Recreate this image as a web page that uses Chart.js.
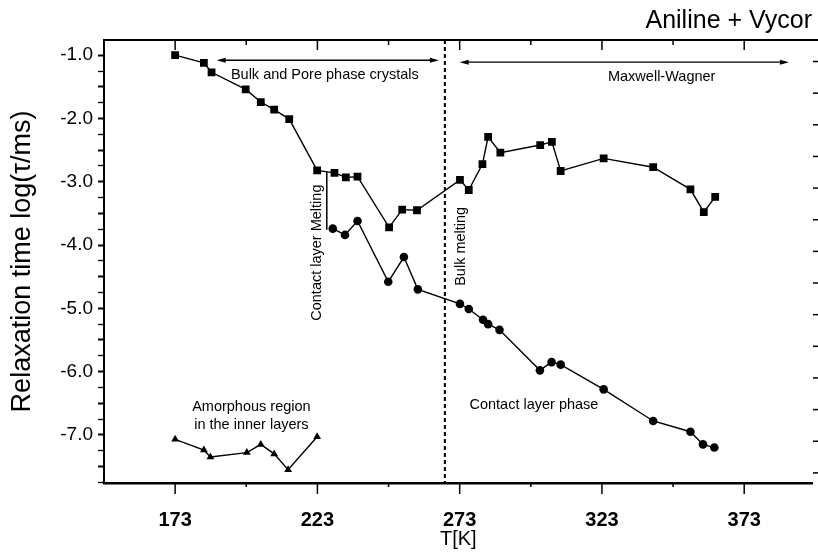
<!DOCTYPE html>
<html>
<head>
<meta charset="utf-8">
<script src="https://cdn.jsdelivr.net/npm/chart.js@4.4.1/dist/chart.umd.min.js"></script>
<style>
  html, body { margin: 0; padding: 0; background: #fff; }
</style>
</head>
<body>
<canvas id="relaxChart" width="818" height="552"></canvas>
<script>
// upper branch: bulk / pore crystals, then Maxwell-Wagner (squares)
const upperT = [173, 183.1, 185.8, 197.8, 203.1, 207.8, 213.1, 222.9, 229.0, 233.0, 237.1, 248.2, 252.8, 258.0,
  273.1, 276.2, 281.0, 283.0, 287.3, 301.3, 305.4, 308.5, 323.6, 341.0, 354.1, 358.8, 362.8];
const upperLog = [-1.00, -1.12, -1.27, -1.54, -1.74, -1.86, -2.01, -2.82, -2.86, -2.93, -2.92, -3.72, -3.44, -3.45,
  -2.97, -3.13, -2.72, -2.29, -2.54, -2.42, -2.37, -2.83, -2.63, -2.77, -3.12, -3.48, -3.24];

// lower branch: contact layer phase (circles)
const lowerT = [228.4, 232.7, 237.1, 247.9, 253.4, 258.3, 273.1, 276.2, 281.2, 283.0, 287.0, 301.2, 305.3, 308.5,
  323.6, 341.0, 354.1, 358.5, 362.5];
const lowerLog = [-3.74, -3.84, -3.62, -4.58, -4.19, -4.70, -4.93, -5.01, -5.18, -5.25, -5.34, -5.98, -5.85, -5.89,
  -6.28, -6.78, -6.95, -7.15, -7.20];

// amorphous region in the inner layers (triangles)
const amorphT = [173, 183.1, 185.4, 198.2, 203.1, 207.8, 212.7, 222.9];
const amorphLog = [-7.07, -7.24, -7.35, -7.28, -7.15, -7.30, -7.55, -7.03];

const xMajorTicks = [173, 223, 273, 323, 373];
const xMinorTicks = [198, 248, 298, 348];
const yMajorTicks = [-1, -2, -3, -4, -5, -6, -7];
const yRightTicks = [-1.1, -1.6, -2.1, -2.6, -3.1, -3.6, -4.1, -4.6, -5.1, -5.6, -6.1, -6.6, -7.1, -7.6];
const bulkMeltingT = 267.8;

const FONT = "'Liberation Sans', Arial, Helvetica, sans-serif";

// quarter-step minor ticks on the left axis
const yTickValues = [];
for (let v = -7.75; v <= -1; v += 0.25) yTickValues.push(v);

const toPoints = (xs, ys) => xs.map((t, i) => ({ x: t, y: ys[i] }));

function series(label, xs, ys, style, radius) {
  return {
    label,
    data: toPoints(xs, ys),
    showLine: true,
    borderColor: '#000',
    borderWidth: 1.4,
    pointStyle: style,
    pointRadius: radius,
    pointBackgroundColor: '#000',
    pointBorderColor: '#000',
    pointBorderWidth: 0,
  };
}

function arrow(ctx, x1, x2, yy) {
  ctx.beginPath();
  ctx.moveTo(x1 + 8, yy);
  ctx.lineTo(x2 - 8, yy);
  ctx.stroke();
  ctx.beginPath();
  ctx.moveTo(x1, yy); ctx.lineTo(x1 + 9, yy - 2.5); ctx.lineTo(x1 + 9, yy + 2.5); ctx.closePath();
  ctx.moveTo(x2, yy); ctx.lineTo(x2 - 9, yy - 2.5); ctx.lineTo(x2 - 9, yy + 2.5); ctx.closePath();
  ctx.fill();
}

const frameAndNotes = {
  id: 'frameAndNotes',
  beforeDatasetsDraw(chart) {
    const { ctx, chartArea: a, scales: { x } } = chart;
    ctx.save();
    ctx.strokeStyle = '#000';
    ctx.lineWidth = 2;
    ctx.setLineDash([4, 3]);
    const xm = x.getPixelForValue(bulkMeltingT);
    ctx.beginPath();
    ctx.moveTo(xm, a.top);
    ctx.lineTo(xm, a.bottom);
    ctx.stroke();
    ctx.restore();
  },
  afterDraw(chart) {
    const { ctx, chartArea: a, scales: { x, y } } = chart;
    ctx.save();
    ctx.strokeStyle = '#000';
    ctx.fillStyle = '#000';

    // top frame line
    ctx.lineWidth = 2;
    ctx.beginPath();
    ctx.moveTo(a.left, a.top);
    ctx.lineTo(chart.width, a.top);
    ctx.stroke();

    // x ticks, bottom outward and top inward
    ctx.lineWidth = 1.5;
    const tick = (v, len, top) => {
      const px = x.getPixelForValue(v);
      ctx.beginPath();
      ctx.moveTo(px, top ? a.top : a.bottom);
      ctx.lineTo(px, top ? a.top + len : a.bottom + len);
      ctx.stroke();
    };
    xMajorTicks.forEach((v) => { tick(v, 11, false); tick(v, 10, true); });
    xMinorTicks.forEach((v) => { tick(v, 4, false); tick(v, 5, true); });

    // right-hand ticks
    yRightTicks.forEach((v) => {
      const py = y.getPixelForValue(v);
      ctx.beginPath();
      ctx.moveTo(chart.width - 5, py);
      ctx.lineTo(chart.width, py);
      ctx.stroke();
    });

    // chart title
    ctx.font = `25px ${FONT}`;
    ctx.textAlign = 'right';
    ctx.textBaseline = 'middle';
    ctx.fillText('Aniline + Vycor', 812, 21);

    // arrows
    ctx.lineWidth = 1.3;
    arrow(ctx, x.getPixelForValue(187.6), x.getPixelForValue(265.7), y.getPixelForValue(-1.08));
    arrow(ctx, x.getPixelForValue(273.0), x.getPixelForValue(388.7), y.getPixelForValue(-1.11));

    // contact layer melting bar
    ctx.lineWidth = 1.5;
    ctx.beginPath();
    ctx.moveTo(x.getPixelForValue(226.3), y.getPixelForValue(-2.84));
    ctx.lineTo(x.getPixelForValue(226.3), y.getPixelForValue(-3.76));
    ctx.stroke();

    // labels
    ctx.font = `14.5px ${FONT}`;
    ctx.textAlign = 'center';
    const label = (text, t, v) => ctx.fillText(text, x.getPixelForValue(t), y.getPixelForValue(v));
    label('Bulk and Pore phase crystals', 225.6, -1.31);
    label('Maxwell-Wagner', 344.0, -1.34);
    label('Amorphous region', 199.8, -6.56);
    label('in the inner layers', 199.8, -6.84);
    label('Contact layer phase', 299.1, -6.53);

    const vlabel = (text, t, v) => {
      ctx.save();
      ctx.translate(x.getPixelForValue(t), y.getPixelForValue(v));
      ctx.rotate(-Math.PI / 2);
      ctx.fillText(text, 0, 0);
      ctx.restore();
    };
    vlabel('Contact layer Melting', 223.0, -4.12);
    vlabel('Bulk melting', 273.6, -4.02);

    ctx.restore();
  },
};

new Chart(document.getElementById('relaxChart').getContext('2d'), {
  type: 'scatter',
  data: {
    datasets: [
      series('Bulk / Maxwell-Wagner', upperT, upperLog, 'rect', 5.5),
      series('Contact layer phase', lowerT, lowerLog, 'circle', 4.3),
      series('Amorphous region', amorphT, amorphLog, 'triangle', 4.5),
    ],
  },
  options: {
    responsive: false,
    animation: false,
    layout: { padding: { top: 40, right: 0, bottom: 0, left: 0 } },
    plugins: { legend: { display: false }, tooltip: { enabled: false } },
    scales: {
      x: {
        type: 'linear',
        min: 148,
        max: 397,
        afterBuildTicks: (s) => { s.ticks = xMajorTicks.map((v) => ({ value: v })); },
        afterFit: (s) => { s.height = 69; },
        ticks: {
          autoSkip: false,
          maxRotation: 0,
          padding: 17,
          color: '#000',
          font: { family: FONT, size: 20, weight: 'bold' },
          callback: (v) => String(v),
        },
        grid: { display: false },
        border: { display: true, color: '#000', width: 2.5 },
        title: { display: true, text: 'T[K]', color: '#000', font: { family: FONT, size: 20 }, padding: { top: 0, bottom: 1 } },
      },
      y: {
        type: 'linear',
        min: -7.76,
        max: -0.76,
        afterBuildTicks: (s) => { s.ticks = yTickValues.map((v) => ({ value: v })); },
        afterFit: (s) => { s.width = 104; },
        ticks: {
          autoSkip: false,
          padding: 5,
          color: '#000',
          font: { family: FONT, size: 19 },
          callback: (v) => (yMajorTicks.includes(v) ? v.toFixed(1) : ''),
        },
        grid: {
          drawOnChartArea: false,
          tickLength: 6,
          tickColor: '#000',
          tickWidth: (c) => (c.tick && Number.isInteger(c.tick.value * 2) ? 2 : 1.3),
        },
        border: { display: true, color: '#000', width: 2 },
        title: { display: true, text: 'Relaxation time log(τ/ms)', color: '#000', font: { family: FONT, size: 27 }, padding: { top: 6, bottom: 0 } },
      },
    },
  },
  plugins: [frameAndNotes],
});
</script>
</body>
</html>
